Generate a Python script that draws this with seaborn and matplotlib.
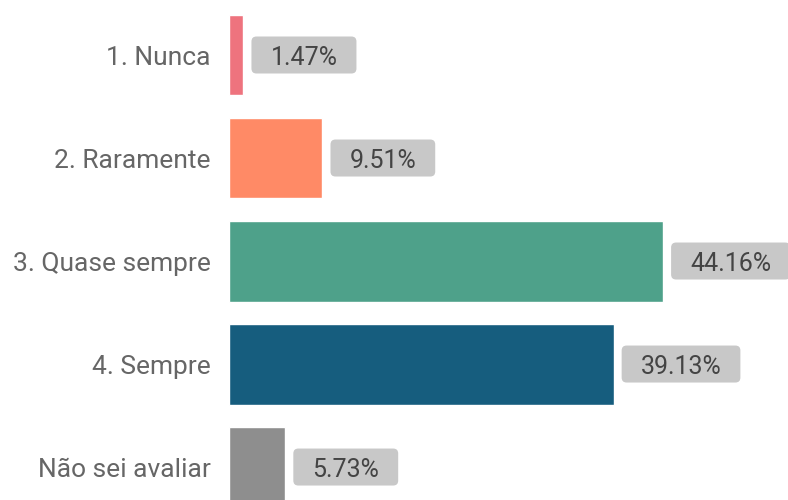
import pandas as pd
import seaborn as sns
import matplotlib.pyplot as plt
from matplotlib.patches import FancyBboxPatch
from matplotlib.transforms import IdentityTransform

categories = ["1. Nunca", "2. Raramente", "3. Quase sempre", "4. Sempre", "Não sei avaliar"]
values = [1.47, 9.51, 44.16, 39.13, 5.73]
colors = ["#EE737E", "#FF8A66", "#4EA18A", "#165D7E", "#8E8E8E"]

df = pd.DataFrame({"categoria": categories, "pct": values})

sns.set_style("white")
plt.rcParams["font.family"] = ["Roboto", "DejaVu Sans"]

W, H, DPI = 788, 500, 100
fig = plt.figure(figsize=(W / DPI, H / DPI), dpi=DPI)
ax = fig.add_axes([229 / W, 0, (W - 229) / W, 1])

sns.barplot(data=df, y="categoria", x="pct", hue="categoria", palette=colors,
            order=categories, orient="h", width=0.786, saturation=1,
            legend=False, ax=ax)

px_per_pct = 9.83
ax.set_xlim(0, (W - 229) / px_per_pct)
ax.set_ylim(4.32, -0.534)
sns.despine(ax=ax, left=True, bottom=True)
ax.set_xticks([])
ax.set_xlabel("")
ax.set_ylabel("")
ax.tick_params(axis="y", length=0, pad=13, labelsize=19, labelcolor="#666666")

fig.canvas.draw()
renderer = fig.canvas.get_renderer()
for i, v in enumerate(values):
    x0, yc = ax.transData.transform((v, i))
    x0 += 8
    txt = ax.text(x0 + 19, yc - 3, "{:.2f}%".format(v), fontsize=18, color="#444444",
                  transform=IdentityTransform(), va="center", ha="left",
                  zorder=6, clip_on=False)
    bb = txt.get_window_extent(renderer)
    w = bb.width + 38
    h = 37
    box = FancyBboxPatch((x0, yc - h / 2), w, h, boxstyle="round,pad=0,rounding_size=5",
                         transform=IdentityTransform(), facecolor="#C8C8C8",
                         edgecolor="none", zorder=5, clip_on=False)
    ax.add_artist(box)

fig.savefig("out.png", dpi=DPI)
